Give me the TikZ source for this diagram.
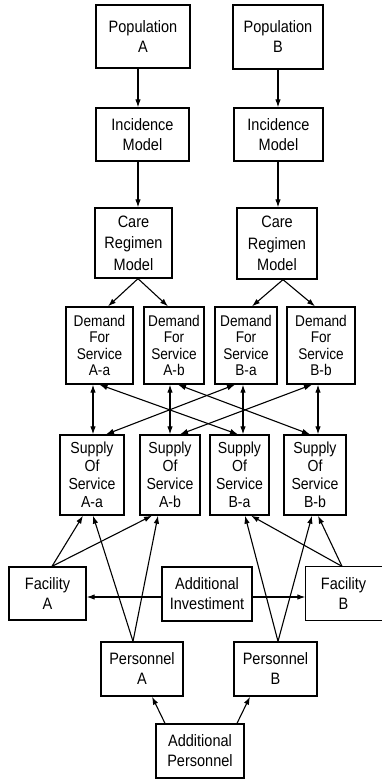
\documentclass[tikz,border=0pt]{standalone}
\usepackage{fontspec}
\setmainfont{Liberation Sans}[FakeStretch=0.88]
\usetikzlibrary{arrows.meta}
\begin{document}
\begin{tikzpicture}[x=1pt,y=-1pt,
  box/.style={draw, line width=1.3pt, inner sep=0pt, align=center, font=\fontsize{16.5}{20}\selectfont},
  dem/.style={font=\fontsize{15.5}{16.5}\selectfont},
  sup/.style={font=\fontsize{16}{18}\selectfont},
  care/.style={font=\fontsize{16.5}{21.5}\selectfont},
  arr/.style={line width=1.1pt, -{Latex[length=8pt,width=5.5pt]}},
  darr/.style={line width=1.1pt, {Latex[length=8pt,width=5.5pt]}-{Latex[length=8pt,width=5.5pt]}},
]
\useasboundingbox (0,0) rectangle (381,781);

% row 1
\node[box, minimum width=94pt, minimum height=63pt] (popA) at (143,36.5) {Population\\A};
\node[box, minimum width=90pt, minimum height=64pt] (popB) at (278,37) {Population\\B};
% row 2
\node[box, minimum width=93pt, minimum height=53pt] (incA) at (142.5,134.5) {Incidence\\Model};
\node[box, minimum width=89pt, minimum height=53pt] (incB) at (278.5,134.5) {Incidence\\Model};
% row 3
\node[box, care, minimum width=77pt, minimum height=70pt] (careA) at (133.5,243) {Care\\Regimen\\Model};
\node[box, care, minimum width=80pt, minimum height=71pt] (careB) at (277,243.5) {Care\\Regimen\\Model};
% row 4
\node[box, dem, minimum width=67pt, minimum height=77pt] (demAa) at (99.5,345.5) {Demand\\For\\Service\\A-a};
\node[box, dem, minimum width=60pt, minimum height=77pt] (demAb) at (174,345.5) {Demand\\For\\Service\\A-b};
\node[box, dem, minimum width=62pt, minimum height=77pt] (demBa) at (246,345.5) {Demand\\For\\Service\\B-a};
\node[box, dem, minimum width=68pt, minimum height=77pt] (demBb) at (321,345.5) {Demand\\For\\Service\\B-b};
% row 5
\node[box, sup, minimum width=64pt, minimum height=80pt] (supAa) at (92,475) {Supply\\Of\\Service\\A-a};
\node[box, sup, minimum width=60pt, minimum height=80pt] (supAb) at (170,475) {Supply\\Of\\Service\\A-b};
\node[box, sup, minimum width=59pt, minimum height=80pt] (supBa) at (239.5,475) {Supply\\Of\\Service\\B-a};
\node[box, sup, minimum width=62pt, minimum height=80pt] (supBb) at (315,475) {Supply\\Of\\Service\\B-b};
% row 6
\node[box, minimum width=77pt, minimum height=53pt] (facA) at (47.5,593.5) {Facility\\A};
\node[box, minimum width=90pt, minimum height=54pt] (addInv) at (207,594) {Additional\\Investiment};
\node[box, draw=none, minimum width=75pt, minimum height=53pt] (facB) at (343.5,593.5) {Facility\\B};
\draw[line width=1.3pt] (facB.north east) -- (facB.north west) -- (facB.south west) -- (facB.south east);
% row 7
\node[box, minimum width=82pt, minimum height=54pt] (perA) at (142,669) {Personnel\\A};
\node[box, minimum width=83pt, minimum height=54pt] (perB) at (275.5,669) {Personnel\\B};
% row 8
\node[box, minimum width=88pt, minimum height=54pt] (addPer) at (200,751) {Additional\\Personnel};

% top chain
\draw[arr] ([xshift=-5pt]popA.south) -- ([xshift=-5pt]popA.south |- incA.north);
\draw[arr] (popB.south) -- (popB.south |- incB.north);
\draw[arr] ([xshift=-4.5pt]incA.south) -- ([xshift=-4.5pt]incA.south |- careA.north);
\draw[arr] ([xshift=-0.5pt]incB.south) -- ([xshift=-0.5pt]incB.south |- careB.north);
% care -> demand
\draw[arr] ([xshift=4.5pt]careA.south) -- ([xshift=8.5pt]demAa.north);
\draw[arr] ([xshift=4.5pt]careA.south) -- ([xshift=-6pt]demAb.north);
\draw[arr] ([xshift=6pt]careB.south) -- ([xshift=6pt]demBa.north);
\draw[arr] ([xshift=6pt]careB.south) -- ([xshift=-6pt]demBb.north);
% demand <-> supply vertical
\draw[darr] ([xshift=-6.5pt]demAa.south) -- ([xshift=-6.5pt]demAa.south |- supAa.north);
\draw[darr] ([xshift=-4pt]demAb.south) -- ([xshift=-4pt]demAb.south |- supAb.north);
\draw[darr] ([xshift=-3pt]demBa.south) -- ([xshift=-3pt]demBa.south |- supBa.north);
\draw[darr] ([xshift=-3pt]demBb.south) -- ([xshift=-3pt]demBb.south |- supBb.north);
% demand <-> supply crossing
\draw[darr] (demAa.south) -- ([xshift=-1.5pt]supBa.north);
\draw[darr] ([xshift=4pt]demAb.south) -- ([xshift=-5pt]supBb.north);
\draw[darr] ([xshift=-11pt]demBa.south) -- ([xshift=14pt]supAa.north);
\draw[darr] ([xshift=-9pt]demBb.south) -- ([xshift=10pt]supAb.north);
% facilities and personnel -> supply
\draw[arr] ([xshift=4.5pt]facA.north) -- ([xshift=-9pt]supAa.south);
\draw[arr] ([xshift=4.5pt]facA.north) -- ([xshift=-18pt]supAb.south);
\draw[arr] ([xshift=-9pt]perA.north) -- ([xshift=1pt]supAa.south);
\draw[arr] ([xshift=-9pt]perA.north) -- ([xshift=-12pt]supAb.south);
\draw[arr] ([xshift=2.5pt]perB.north) -- ([xshift=5.5pt]supBa.south);
\draw[arr] ([xshift=2.5pt]perB.north) -- ([xshift=-3pt]supBb.south);
\draw[arr] ([xshift=-1.5pt]facB.north) -- ([xshift=11.5pt]supBa.south);
\draw[arr] ([xshift=-1.5pt]facB.north) -- ([xshift=3pt]supBb.south);
% additional investment -> facilities
\draw[arr] ([yshift=-3pt]addInv.west) -- ([yshift=-3pt]addInv.west -| facA.east);
\draw[arr] ([yshift=-3pt]addInv.east) -- ([yshift=-3pt]addInv.east -| facB.west);
% additional personnel -> personnel
\draw[arr] ([xshift=-35pt]addPer.north) -- ([xshift=10pt]perA.south);
\draw[arr] ([xshift=37pt]addPer.north) -- ([xshift=-25.5pt]perB.south);
\end{tikzpicture}
\end{document}
